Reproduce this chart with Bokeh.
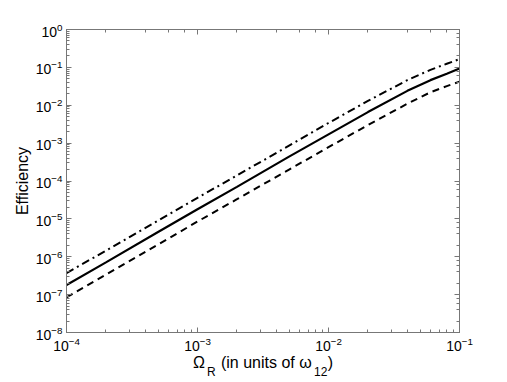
from bokeh.plotting import figure
from bokeh.models import LogAxis, LinearAxis, Range1d, CustomJSTickFormatter
from bokeh.embed import file_html
from bokeh.resources import INLINE

omega_r = [1e-4, 2e-4, 5e-4, 1e-3, 2e-3, 5e-3, 1e-2, 2e-2, 4e-2, 6e-2, 8e-2, 1e-1]
eff_solid = [1.8e-7, 7.1e-7, 4.5e-6, 1.8e-5, 7.0e-5, 4.4e-4, 1.7e-3, 6.6e-3, 2.4e-2, 4.6e-2, 6.8e-2, 9.3e-2]
eff_dashdot = [3.7e-7, 1.45e-6, 9.0e-6, 3.6e-5, 1.4e-4, 8.6e-4, 3.4e-3, 1.3e-2, 4.6e-2, 8.6e-2, 1.25e-1, 1.65e-1]
eff_dashed = [8.5e-8, 3.4e-7, 2.1e-6, 8.5e-6, 3.3e-5, 2.0e-4, 7.8e-4, 3.0e-3, 1.1e-2, 2.2e-2, 3.2e-2, 4.2e-2]

x_label_main = "\u03a9\u2003(in units of \u03c9\u2003)"
x_label_sub = "\u2002\u2009R" + "\u2003" * 8 + "\u2009" + "12"
y_label = "Efficiency"

FONT = "Liberation Sans"
AX = "#777777"

p = figure(frame_width=393, frame_height=303, x_axis_type="log", y_axis_type="log",
           x_range=Range1d(1e-4, 1e-1), y_range=Range1d(1e-8, 1e0),
           output_backend="svg", toolbar_location=None,
           min_border_left=66, min_border_right=48, min_border_top=29, min_border_bottom=48)
p.grid.visible = False
p.outline_line_color = AX
p.outline_line_width = 1

p.line(omega_r, eff_dashdot, line_color="black", line_width=2, line_dash="8 4 2 4")
p.line(omega_r, eff_solid, line_color="black", line_width=2.2)
p.line(omega_r, eff_dashed, line_color="black", line_width=2, line_dash="7 5")

def style(ax):
    ax.axis_line_color = AX
    ax.major_tick_line_color = AX
    ax.minor_tick_line_color = AX
    ax.major_tick_in = 5
    ax.major_tick_out = 0
    ax.minor_tick_in = 3
    ax.minor_tick_out = 0
    ax.major_label_text_font = FONT
    ax.major_label_text_font_size = "14px"
    ax.major_label_text_color = "black"
    ax.axis_label_text_font = FONT
    ax.axis_label_text_font_style = "normal"
    ax.axis_label_text_color = "black"

xa = p.below[0]
ya = p.left[0]
for ax in (xa, ya):
    style(ax)
xa.major_label_standoff = 4
ya.major_label_standoff = 4

blank = CustomJSTickFormatter(code="return ''")
top = LogAxis(formatter=blank)
right = LogAxis(formatter=blank)
p.add_layout(top, "above")
p.add_layout(right, "right")
for ax in (top, right):
    style(ax)
    ax.major_label_standoff = 0

ya.axis_label = y_label
ya.axis_label_text_font_size = "16px"
ya.axis_label_standoff = 2

xa.axis_label = x_label_main
xa.axis_label_text_font_size = "16px"
xa.axis_label_standoff = 0

sub = LinearAxis(axis_label=x_label_sub)
sub.axis_line_color = None
sub.major_tick_line_color = None
sub.minor_tick_line_color = None
sub.major_tick_in = 0
sub.major_tick_out = 0
sub.minor_tick_in = 0
sub.minor_tick_out = 0
sub.major_label_standoff = 0
sub.formatter = CustomJSTickFormatter(code="return ''")
sub.axis_label_text_font = FONT
sub.axis_label_text_font_size = "12px"
sub.axis_label_text_font_style = "normal"
sub.axis_label_text_color = "black"
sub.axis_label_standoff = -9
p.add_layout(sub, "below")

open("out.html", "w").write(file_html(p, INLINE))
